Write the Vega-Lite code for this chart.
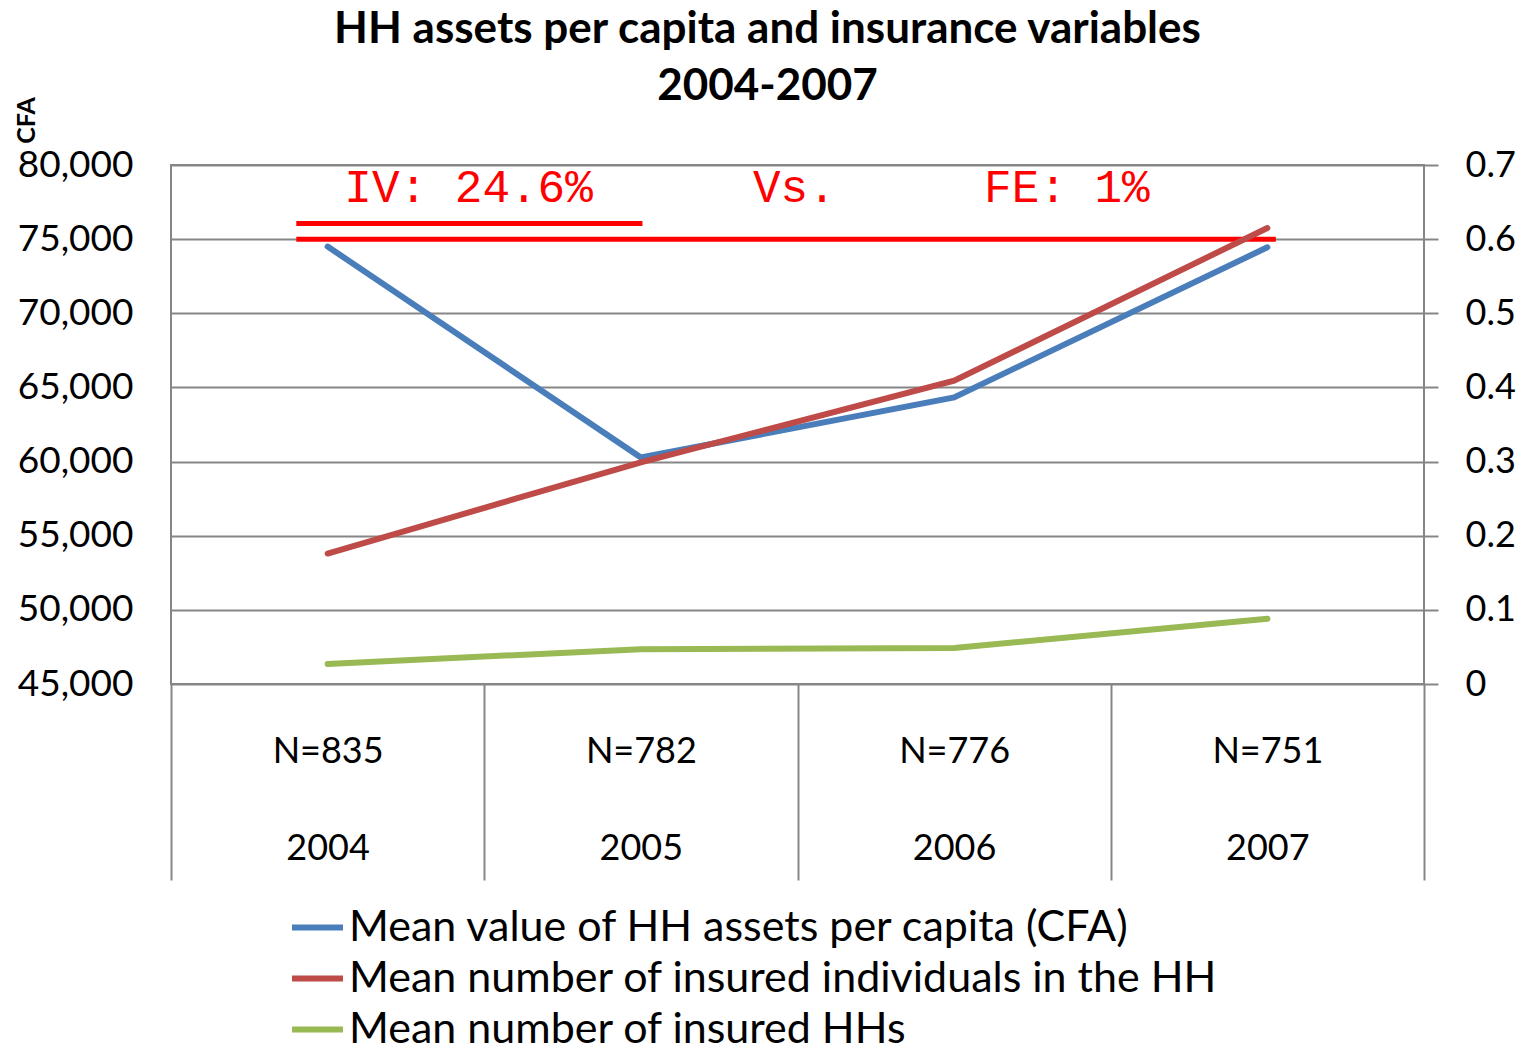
{
  "$schema": "https://vega.github.io/schema/vega-lite/v6.json",
  "width": 1253,
  "height": 519,
  "autosize": {"type": "none"},
  "padding": {"left": 171, "top": 165, "right": 100, "bottom": 361},
  "background": "white",
  "config": {
    "font": "Lato",
    "view": {"stroke": "#868686", "strokeWidth": 2}
  },
  "title": {
    "text": ["HH assets per capita and insurance variables", "2004-2007"],
    "fontSize": 44,
    "fontWeight": "bold",
    "lineHeight": 57,
    "anchor": "middle",
    "dx": -30,
    "offset": -12,
    "color": "black"
  },
  "datasets": {
    "series": [
      {"year": 2004, "n": 835, "series": "Mean  value of HH assets per capita (CFA)", "axis": "left", "value": 74500},
      {"year": 2005, "n": 782, "series": "Mean  value of HH assets per capita (CFA)", "axis": "left", "value": 60270},
      {"year": 2006, "n": 776, "series": "Mean  value of HH assets per capita (CFA)", "axis": "left", "value": 64330},
      {"year": 2007, "n": 751, "series": "Mean  value of HH assets per capita (CFA)", "axis": "left", "value": 74450},
      {"year": 2004, "n": 835, "series": "Mean number of insured individuals in the HH", "axis": "right", "value": 0.176},
      {"year": 2005, "n": 782, "series": "Mean number of insured individuals in the HH", "axis": "right", "value": 0.299},
      {"year": 2006, "n": 776, "series": "Mean number of insured individuals in the HH", "axis": "right", "value": 0.409},
      {"year": 2007, "n": 751, "series": "Mean number of insured individuals in the HH", "axis": "right", "value": 0.615},
      {"year": 2004, "n": 835, "series": "Mean number of insured HHs", "axis": "right", "value": 0.027},
      {"year": 2005, "n": 782, "series": "Mean number of insured HHs", "axis": "right", "value": 0.047},
      {"year": 2006, "n": 776, "series": "Mean number of insured HHs", "axis": "right", "value": 0.0486},
      {"year": 2007, "n": 751, "series": "Mean number of insured HHs", "axis": "right", "value": 0.088}
    ],
    "notes_rules": [
      {"year": 2003.9, "year2": 2007.027, "value": 75000},
      {"year": 2003.9, "year2": 2005.005, "value": 76050}
    ],
    "notes_text": [
      {"year": 2004.45, "value": 78450, "label": "IV: 24.6%"},
      {"year": 2005.49, "value": 78450, "label": "Vs."},
      {"year": 2006.36, "value": 78450, "label": "FE: 1%"}
    ]
  },
  "encoding": {
    "x": {
      "field": "year",
      "type": "quantitative",
      "scale": {"domain": [2003.5, 2007.5], "nice": false, "zero": false},
      "axis": {
        "title": null,
        "values": [2003.5, 2004, 2004.5, 2005, 2005.5, 2006, 2006.5, 2007, 2007.5],
        "labelExpr": "datum.value == 2004 ? ['N=835', '2004'] : datum.value == 2005 ? ['N=782', '2005'] : datum.value == 2006 ? ['N=776', '2006'] : datum.value == 2007 ? ['N=751', '2007'] : ''",
        "grid": false,
        "domain": false,
        "tickSize": 196,
        "tickWidth": 2,
        "tickColor": {"condition": {"test": "datum.value % 1 == 0", "value": "transparent"}, "value": "#868686"},
        "labelFontSize": 36,
        "labelColor": "black",
        "labelPadding": -146,
        "labelLineHeight": 97,
        "labelOverlap": false,
        "labelFlush": false,
        "labelBound": false
      }
    }
  },
  "layer": [
    {
      "encoding": {
        "y": {
          "field": "value",
          "type": "quantitative",
          "scale": {"domain": [45000, 80000], "nice": false, "zero": false},
          "axis": {
            "title": "CFA",
            "titleFontSize": 25,
            "titleFontWeight": "bold",
            "titleColor": "black",
            "titleAngle": 270,
            "titleAlign": "center",
            "titleBaseline": "middle",
            "titleX": -145,
            "titleY": -45,
            "values": [45000, 50000, 55000, 60000, 65000, 70000, 75000, 80000],
            "format": ",d",
            "grid": true,
            "gridColor": "#868686",
            "gridWidth": 2,
            "ticks": false,
            "domain": false,
            "labelFontSize": 37,
            "labelColor": "black",
            "labelPadding": 38
          }
        }
      },
      "layer": [
        {
          "data": {"name": "series"},
          "transform": [{"filter": "datum.axis == 'left'"}],
          "mark": {"type": "line", "strokeWidth": 6, "strokeCap": "round"},
          "encoding": {
            "color": {
              "field": "series",
              "type": "nominal",
              "scale": {
                "domain": ["Mean  value of HH assets per capita (CFA)", "Mean number of insured individuals in the HH", "Mean number of insured HHs"],
                "range": ["#4A7EBB", "#BE4B48", "#98B954"]
              },
              "legend": {
                "title": null,
                "orient": "none",
                "legendX": 118,
                "legendY": 734,
                "direction": "vertical",
                "symbolType": "stroke",
                "symbolSize": 2600,
                "symbolStrokeWidth": 6,
                "labelFontSize": 43,
                "labelColor": "black",
                "labelOffset": 3,
                "rowPadding": 0,
                "labelLimit": 1200
              }
            }
          }
        },
        {
          "data": {"name": "notes_rules"},
          "mark": {"type": "rule", "color": "#FF0000", "strokeWidth": 5},
          "encoding": {
            "x2": {"field": "year2"}
          }
        },
        {
          "data": {"name": "notes_text"},
          "mark": {"type": "text", "color": "#FF0000", "font": "Liberation Mono", "fontSize": 46, "align": "center", "baseline": "middle"},
          "encoding": {
            "text": {"field": "label"}
          }
        }
      ]
    },
    {
      "data": {"name": "series"},
      "transform": [{"filter": "datum.axis == 'right'"}],
      "mark": {"type": "line", "strokeWidth": 6, "strokeCap": "round"},
      "encoding": {
        "y": {
          "field": "value",
          "type": "quantitative",
          "scale": {"domain": [0, 0.7], "nice": false, "zero": true},
          "axis": {
            "orient": "right",
            "title": null,
            "values": [0, 0.1, 0.2, 0.3, 0.4, 0.5, 0.6, 0.7],
            "format": ".1~f",
            "grid": false,
            "domain": false,
            "ticks": true,
            "tickSize": 14,
            "tickWidth": 2,
            "tickColor": "#868686",
            "labelFontSize": 36,
            "labelColor": "black",
            "labelPadding": 27
          }
        },
        "color": {"field": "series", "type": "nominal"}
      }
    }
  ],
  "resolve": {"scale": {"y": "independent"}}
}
